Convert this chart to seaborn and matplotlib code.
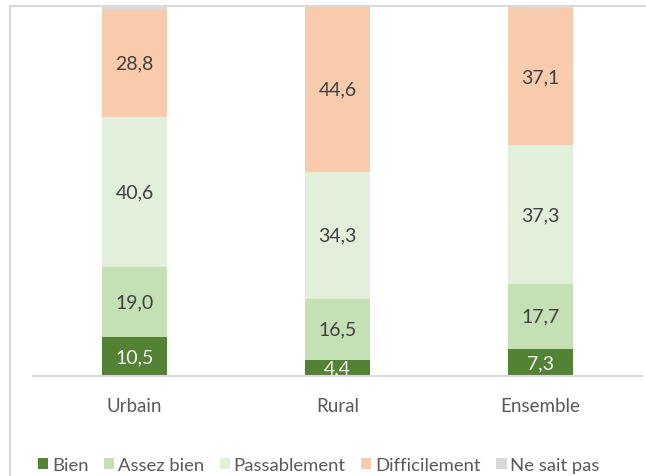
import numpy as np
import pandas as pd
import matplotlib
matplotlib.use("Agg")
import matplotlib.pyplot as plt
from matplotlib.patches import Rectangle, Patch
import seaborn as sns

# Data
zones = ["Urbain", "Rural", "Ensemble"]
categories = ["Bien", "Assez bien", "Passablement", "Difficilement", "Ne sait pas"]
bien = [10.5, 4.4, 7.3]
assez_bien = [19.0, 16.5, 17.7]
passablement = [40.6, 34.3, 37.3]
difficilement = [28.8, 44.6, 37.1]
ne_sait_pas = [1.1, 0.2, 0.6]
colors = ["#548235", "#C5E0B4", "#E2EFDA", "#F8CBAD", "#D9D9D9"]

sns.set_theme(style="white")
plt.rcParams["font.family"] = ["Lato", "DejaVu Sans"]

df = pd.DataFrame({
    "Zone": zones,
    "Bien": bien,
    "Assez bien": assez_bien,
    "Passablement": passablement,
    "Difficilement": difficilement,
    "Ne sait pas": ne_sait_pas,
})
cum = df[categories].cumsum(axis=1)

fig = plt.figure(figsize=(6.46, 4.77), dpi=100)
ax = fig.add_axes([33 / 646, 100 / 477, 609 / 646, 370 / 477])

# stacked bars: draw cumulative totals from the top layer down
for cat, col in reversed(list(zip(categories, colors))):
    sns.barplot(x=df["Zone"], y=cum[cat], color=col, width=0.32,
                saturation=1, ax=ax, linewidth=0)

# segment labels
for i, z in enumerate(zones):
    base = 0
    for cat in categories[:4]:
        v = df.loc[i, cat]
        tc = "#F2F2F2" if cat == "Bien" else "#404040"
        ax.text(i, base + v / 2, f"{v:.1f}".replace(".", ","), ha="center",
                va="center", fontsize=14, color=tc, clip_on=True)
        base += v

ax.set_ylim(0, 100)
ax.set_xlim(-0.5, 2.5)
ax.set_xlabel("")
ax.set_ylabel("")
ax.set_yticks([])
ax.tick_params(axis="x", length=0, pad=15, labelsize=13.5, labelcolor="#595959")
for s in ["top", "left", "right"]:
    ax.spines[s].set_visible(False)
ax.spines["bottom"].set_color("#D9D9D9")
ax.spines["bottom"].set_linewidth(1.5)

# chart frame
fig.patches.append(Rectangle((10 / 646, -0.1), 1.0, (477 - 7) / 477 + 0.1,
                             transform=fig.transFigure, fill=False,
                             edgecolor="#D9D9D9", linewidth=1.5))

handles = [Patch(facecolor=c, edgecolor="none") for c in colors]
fig.legend(handles, categories, loc="center left", bbox_to_anchor=(38 / 646, 1 - 466 / 477),
           ncol=5, frameon=False, fontsize=13.3, handlelength=0.55, handleheight=0.55,
           handletextpad=0.2, columnspacing=0.85, borderpad=0, borderaxespad=0,
           labelcolor="#595959")

fig.savefig("out.png", dpi=100)
